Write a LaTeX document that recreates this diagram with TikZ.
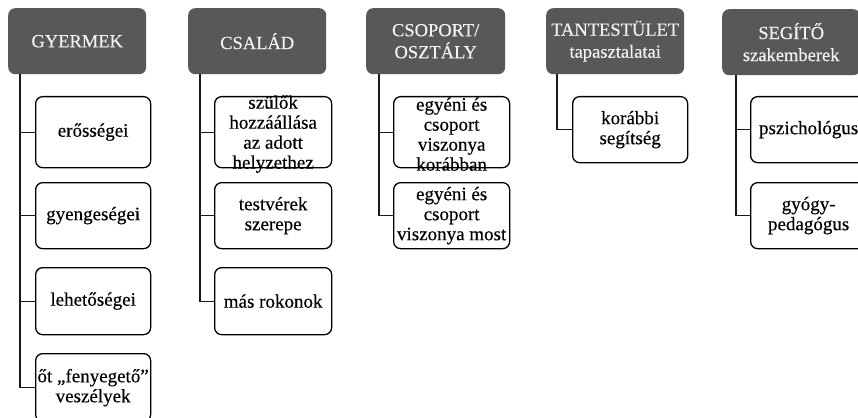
\documentclass[tikz,border=0pt]{standalone}
\usepackage{fontspec}
\setmainfont{Liberation Serif}[FakeBold=0.3]
\definecolor{headgray}{HTML}{585858}
\definecolor{headtext}{HTML}{F2F2F2}
\begin{document}
\begin{tikzpicture}[x=1pt,y=-1pt,
  head/.style={fill=headgray, draw=none, rounded corners=7pt, text=headtext,
    align=center, font=\fontsize{18.5}{22}\selectfont, minimum width=138pt,
    minimum height=66pt, inner sep=0pt, anchor=north west},
  item/.style={draw=black, line width=1.3pt, rounded corners=7pt, align=center,
    font=\fontsize{19}{20}\selectfont, inner sep=0pt, anchor=north west,
    minimum width=#1, minimum height=66pt},
  item/.default=116pt,
  txt/.style={align=center, font=\fontsize{19}{20}\selectfont, inner sep=0pt},
  link/.style={draw=black!90, line width=1.3pt}
]
\clip (0,0) rectangle (858,417);
\fill[white] (0,0) rectangle (858,417);

% column headers
\node[head] (gy) at (8,8) {GYERMEK};
\node[head] (cs) at (188,8) {CSALÁD};
\node[head, minimum width=139pt] (co) at (366,8) {CSOPORT/\\OSZTÁLY};
\node[head] (ta) at (546,8) {TANTESTÜLET\\tapasztalatai};
\node[head] (se) at (722,9) {SEGÍTŐ\\szakemberek};

% GYERMEK column
\node[item=115pt, minimum height=71pt] (g1) at (35,96) {erősségei};
\node[item=115pt] (g2) at (35,182) {gyengeségei};
\node[item=115pt, minimum height=67pt] (g3) at (35,267) {lehetőségei};
\node[item=115pt, minimum height=68pt] (g4) at (35,353) {őt „fenyegető”\\veszélyek};

% CSALÁD column
\node[item=117pt, minimum height=71pt] (c1) at (214,96) {};
\node[txt] (c1t) at ([yshift=-2pt]c1.center) {szülők\\hozzáállása\\az adott\\helyzethez};
\node[item=117pt] (c2) at (214,182) {testvérek\\szerepe};
\node[item=117pt, minimum height=67pt] (c3) at (214,267) {más rokonok};

% CSOPORT/OSZTÁLY column
\node[item=116pt, minimum height=71pt] (o1) at (393,96) {};
\node[txt] (o1t) at ([yshift=-2pt]o1.center) {egyéni és\\csoport\\viszonya\\korábban};
\node[item=116pt] (o2) at (393,182) {egyéni és\\csoport\\viszonya most};

% TANTESTÜLET column
\node[item=115pt] (t1) at (572,96) {korábbi\\segítség};

% SEGÍTŐ column
\node[item=116pt] (s1) at (750,96) {pszichológus};
\node[item=116pt] (s2) at (750,182) {gyógy-\\pedagógus};

% tree connectors
\coordinate (gx) at (20,74);
\coordinate (cx) at (200,74);
\coordinate (ox) at (379,74);
\coordinate (tx) at (557,74);
\coordinate (sx) at (736,75);

\draw[link] (gx) |- (g4.west);
\foreach \n in {g1,g2,g3} \draw[link] (gx |- \n.west) -- (\n.west);
\draw[link] (cx) |- (c3.west);
\foreach \n in {c1,c2} \draw[link] (cx |- \n.west) -- (\n.west);
\draw[link] (ox) |- (o2.west);
\draw[link] (ox |- o1.west) -- (o1.west);
\draw[link] (tx) |- (t1.west);
\draw[link] (sx) |- (s2.west);
\draw[link] (sx |- s1.west) -- (s1.west);
\end{tikzpicture}
\end{document}
